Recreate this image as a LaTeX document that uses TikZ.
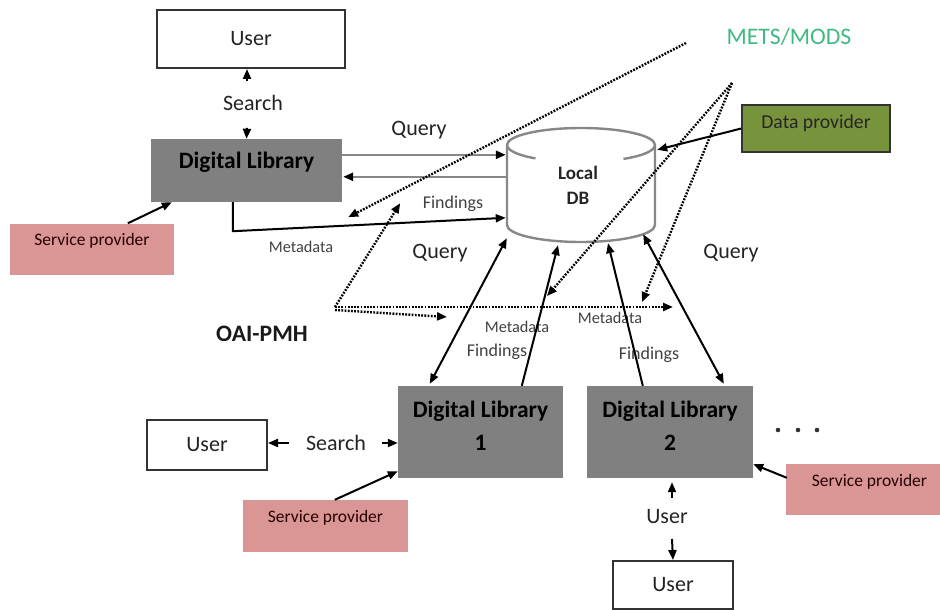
\documentclass[tikz,border=0pt]{standalone}
\usepackage{fontspec}
\setmainfont{Carlito}
\usetikzlibrary{arrows.meta,calc}
\definecolor{dlgray}{RGB}{128,128,128}
\definecolor{sppink}{RGB}{217,150,148}
\definecolor{dpgreen}{RGB}{119,147,60}
\definecolor{metsgreen}{RGB}{64,186,128}
\definecolor{linegray}{RGB}{135,135,135}
\definecolor{txt}{RGB}{35,35,35}
\begin{document}
\begin{tikzpicture}[x=1pt,y=-1pt,
  tipA/.style={-{Triangle[length=10pt,width=8pt,color=black]}},
  tipB/.style={{Triangle[length=10pt,width=8pt,color=black]}-{Triangle[length=10pt,width=8pt,color=black]}},
  conn/.style={line width=2pt, black},
  gconn/.style={line width=2.4pt, linegray},
  dotl/.style={line width=2.4pt, black, dash pattern=on 1.8pt off 1.4pt},
  userbox/.style={draw=black!80, line width=2pt, fill=white, inner sep=0pt, text=txt, font=\fontsize{22}{26}\selectfont},
  dlbox/.style={fill=dlgray, draw=none, inner sep=0pt},
  spbox/.style={fill=sppink, draw=none, inner sep=0pt},
  dpbox/.style={fill=dpgreen, draw=black!80, line width=1.5pt, inner sep=0pt},
  dlfont/.style={inner sep=0pt, text=black, font=\fontsize{23.5}{33}\selectfont\bfseries, align=center},
  spfont/.style={inner sep=0pt, text=black!85!red, font=\fontsize{17.5}{20}\selectfont},
  lbl/.style={inner sep=0pt, text=txt, font=\fontsize{22}{26}\selectfont},
  meta/.style={inner sep=0pt, text=black!75, font=\fontsize{16.3}{19}\selectfont},
  fnd/.style={inner sep=0pt, text=black!75, font=\fontsize{18}{21}\selectfont},
  cyl/.style={draw=linegray, line width=2.4pt}
]
\useasboundingbox (0,0) rectangle (940,610);

% ---------- boxes ----------
\node[userbox, minimum width=188, minimum height=58] (userTop) at (251,39) {User};
\node[dlbox, minimum width=191, minimum height=63] (dl0) at (246.5,170.5) {};
\node[dlfont] (dl0t) at (246.5,162) {Digital Library};
\node[spbox, minimum width=164, minimum height=51] (sp0) at (92,249) {};
\node[spfont] (sp0t) at (92,241) {Service provider};
\node[dpbox, minimum width=148, minimum height=47] (dp) at (816,128.5) {};
\node[inner sep=0pt, text=black!85, font=\fontsize{19.7}{23}\selectfont] (dpt) at (816,123) {Data provider};
\node[inner sep=0pt, text=metsgreen, font=\fontsize{23.7}{27}\selectfont] (mets) at (789,37) {METS/MODS};

\node[dlbox, minimum width=165, minimum height=92] (dl1) at (480.5,432) {};
\node[dlfont] (dl1t) at (480.5,426) {Digital Library\\1};
\node[dlbox, minimum width=166, minimum height=92] (dl2) at (670,432) {};
\node[dlfont] (dl2t) at (670,426) {Digital Library\\2};

\node[spbox, minimum width=165, minimum height=52] (sp1) at (325.5,526) {};
\node[spfont] (sp1t) at (325.5,518) {Service provider};
\node[spbox, minimum width=156, minimum height=51] (sp2) at (864,489.5) {};
\node[spfont] (sp2t) at (869.5,482) {Service provider};

\node[userbox, minimum width=120, minimum height=50] (userBL) at (207,445) {User};
\node[userbox, minimum width=120, minimum height=48] (userBR) at (673,585) {User};

% ---------- Local DB cylinder ----------
\node[minimum width=148, minimum height=114, inner sep=0pt] (db) at (581,185) {};
\draw[cyl, fill=white] (507,145) arc[start angle=180, end angle=360, x radius=74, y radius=17]
  -- (655,225) arc[start angle=0, end angle=180, x radius=74, y radius=17] -- cycle;
\draw[cyl] (507,145) arc[start angle=180, end angle=128, x radius=74, y radius=17];
\draw[cyl] (655,145) arc[start angle=0, end angle=55, x radius=74, y radius=17];
\node[inner sep=0pt, text=black!85, font=\fontsize{19}{25}\selectfont\bfseries, align=center] (dbt) at (578,185) {Local\\DB};

% ---------- labels ----------
\node[lbl] (search0) at (253,103) {Search};
\node[lbl] (query0) at (419,130) {Query};
\node[fnd] (find0) at (453,204) {Findings};
\node[meta] (meta0) at (301,247) {Metadata};
\node[lbl] (query1) at (440,253) {Query};
\node[lbl] (query2) at (731,253) {Query};
\node[inner sep=0pt, text=black!90, font=\fontsize{23.6}{27}\selectfont\bfseries] (oai) at (262,334) {OAI-PMH};
\node[meta] (meta1) at (517,327) {Metadata};
\node[meta] (meta2) at (610,318) {Metadata};
\node[fnd] (find1) at (497,352) {Findings};
\node[fnd] (find2) at (649,355) {Findings};
\node[lbl] (search1) at (336,443) {Search};
\node[lbl] (user2) at (667,517) {User};
\fill[black!80] (778,430) circle (2.3) (798,430) circle (2.3) (817,430) circle (2.3);

% ---------- top connectors ----------
\draw[conn, tipA] ($(userTop.south)+(-4,12)$) -- ($(userTop.south)+(-4,0)$);
\draw[conn, tipA] ($(dl0.north)+(0.5,-11)$) -- (dl0.north);
\draw[gconn, tipA] ($(dl0.north east)+(0,16)$) -- ($(db.north west)+(-1,27)$);
\draw[gconn, tipA] ($(db.north west)+(0,49)$) -- ($(dl0.north east)+(1,38)$);
\draw[conn, tipA] ($(dl0.south west)+(82,0)$) -- ++(0,29) -- ($(db.north west)+(-1,90)$);
\draw[conn, tipA] ($(sp0.north west)+(118,0)$) -- ($(dl0.south west)+(21,0)$);
\draw[conn, tipA] (dp.west) -- ($(db.north east)+(2,22)$);

% ---------- DB <-> libraries ----------
\draw[conn, tipB] ($(dl1.north west)+(32,-2)$) -- ($(db.south west)+(0,-4)$);
\draw[conn, tipA] ($(dl1.north west)+(124,0)$) -- ($(db.south)+(-23,3)$);
\draw[conn, tipA] ($(dl2.north west)+(56,0)$) -- ($(db.south)+(27,1)$);
\draw[conn, tipB] ($(dl2.north west)+(137,-2)$) -- ($(db.south east)+(-12,-8)$);

% ---------- bottom connectors ----------
\draw[conn, tipA] ($(userBL.east)+(21,-2)$) -- ($(userBL.east)+(0,-2)$);
\draw[conn, tipA] ($(dl1.west)+(-16,11)$) -- ($(dl1.west)+(0,11)$);
\draw[conn, tipA] ($(sp1.north west)+(92,0)$) -- ($(dl1.south west)+(0,-7)$);
\draw[conn, tipA] ($(sp2.north west)+(1,14)$) -- ($(dl2.south east)+(0,-14)$);
\draw[conn, tipA] ($(dl2.south)+(2,20)$) -- ($(dl2.south)+(2,4)$);
\draw[conn, tipA] ($(userBR.north)+(-1,-21)$) -- (userBR.north);

% ---------- dotted (OAI-PMH / METS/MODS) ----------
\coordinate (mA) at (686,43);
\coordinate (mB) at (732,83);
\coordinate (oc) at (335,307);
\draw[dotl, tipA] (mA) -- ($(dl0.south east)+(6,15)$);
\draw[dotl, tipA] (oc) -- ($(dl0.south east)+(58,1)$);
\draw[dotl, tipA] (oc) -- (673,307);
\draw[dotl, tipA] ($(oc)+(0,3)$) -- (447,317);
\draw[dotl, tipA] (mB) -- ($(meta1.north)+(30,-25)$);
\draw[dotl, tipA] (mB) -- ($(meta2.north)+(32,-10)$);
\end{tikzpicture}
\end{document}
